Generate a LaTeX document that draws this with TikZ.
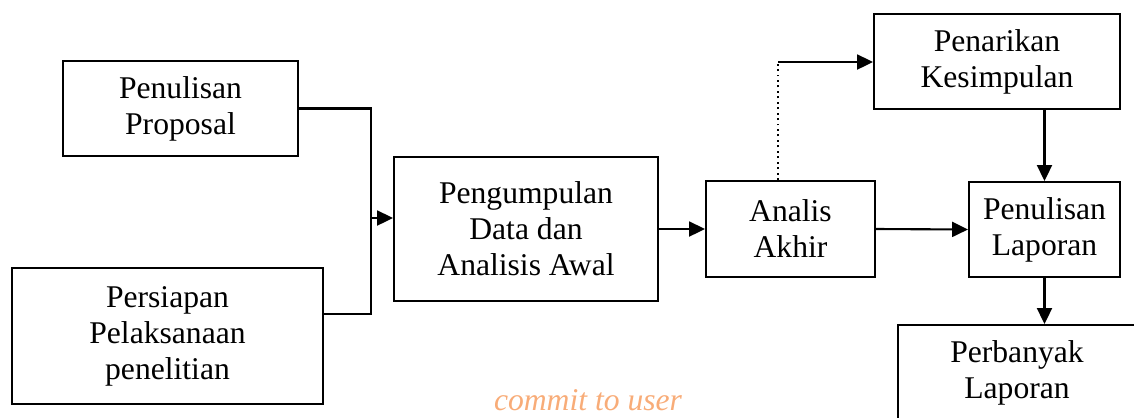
\documentclass[tikz,border=0pt]{standalone}
\usepackage{fontspec}
\setmainfont{Liberation Serif}
\newfontfamily\wmfont{Liberation Serif Italic}
\usetikzlibrary{arrows.meta}
\tikzset{box/.style={draw, rectangle, line width=1.2pt, inner sep=0pt, align=center,
		font=\fontsize{18}{20.5}\selectfont},
	arr/.style={line width=1.2pt, -{Triangle[length=9pt,width=8.5pt]}},
	ln/.style={line width=1.2pt}}

\begin{document}
\begin{tikzpicture}[x=0.02cm, y=-0.02cm]
		\clip (0,0) rectangle (1134,417);
		%		\node[box] (n0){A};
		\node[box, minimum width=4.7cm, minimum height=1.9cm] (prop) at (180.5,108.5){Penulisan\\Proposal};
		\node[box, minimum width=6.22cm, minimum height=2.72cm] (pers) at (167.5,336){Persiapan\\Pelaksanaan\\penelitian};
		\node[box, minimum width=5.28cm, minimum height=2.88cm] (peng) at (526,229){Pengumpulan\\Data dan\\Analisis Awal};
		\node[box, minimum width=3.38cm, minimum height=1.92cm] (akhir) at (790.5,229){Analis\\Akhir};
		\node[box, minimum width=4.92cm, minimum height=1.9cm] (tarik) at (997,61.5){Penarikan\\Kesimpulan};
		\node[box, minimum width=3.02cm, minimum height=1.9cm] (lap) at (1044.5,229.5){Penulisan\\Laporan};
		\node[box, minimum width=4.76cm, minimum height=1.92cm] (banyak) at (1017,373){Perbanyak\\Laporan};
		\node[inner sep=0pt, font=\fontsize{18}{20}\wmfont, text={rgb,255:red,248;green,172;blue,120}] (wm) at (588,400){commit to user};
		\coordinate (jb) at (371,314);
		\coordinate (jm) at (371,218);
		\coordinate (dt) at (778,62);
		\draw[ln] (prop.east) -| (jb) -- (pers.east |- jb);
		\draw[arr] (jm) -- (peng.west |- jm);
		\draw[arr] (peng.east) -- (akhir.west);
		\draw[line width=1.1pt, dotted] (akhir.north -| dt) -- (dt);
		\draw[arr] (dt) -- (tarik.west |- dt);
		\draw[arr] (akhir.east) -- (lap.west);
		\draw[arr] (tarik.south -| lap.north) -- (lap.north);
		\draw[arr] (lap.south) -- (lap.south |- banyak.north);
		\end{tikzpicture}
\end{document}
